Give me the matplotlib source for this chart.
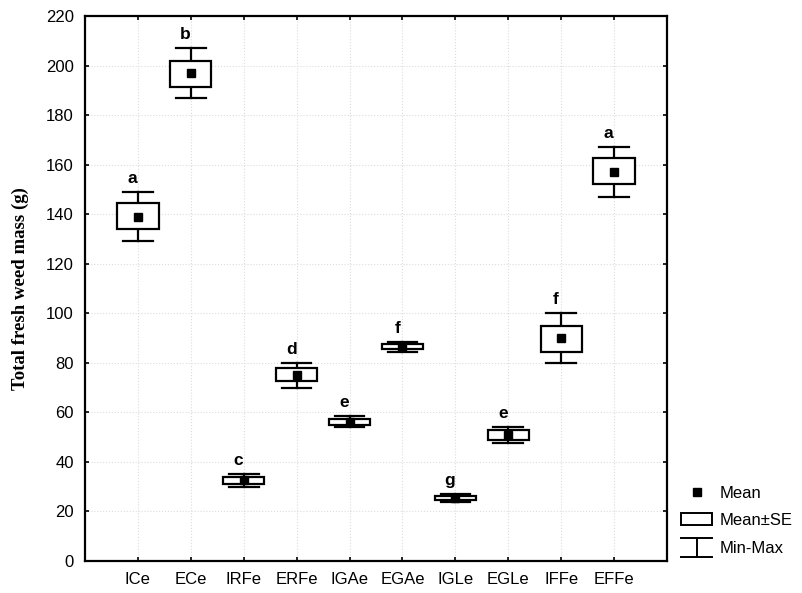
import matplotlib.pyplot as plt
from matplotlib.patches import Rectangle
from matplotlib.lines import Line2D
from matplotlib.legend_handler import HandlerBase

# dados
grupos = ['ICe', 'ECe', 'IRFe', 'ERFe', 'IGAe', 'EGAe', 'IGLe', 'EGLe', 'IFFe', 'EFFe']
media = [139, 197, 32.5, 75, 56, 86.5, 25.5, 51, 90, 157]
se_inf = [134, 191.5, 31, 72.5, 55, 85.5, 24.8, 49, 84.5, 152]
se_sup = [144.5, 202, 34, 78, 57.5, 87.5, 26.3, 53, 95, 162.5]
minimo = [129, 187, 30, 70, 54, 84.5, 24, 47.5, 80, 147]
maximo = [149, 207, 35, 80, 58.5, 88.5, 27, 54, 100, 167]
letras = ['a', 'b', 'c', 'd', 'e', 'f', 'g', 'e', 'f', 'a']

plt.rcParams['font.family'] = ['Liberation Sans', 'DejaVu Sans']

fig = plt.figure(figsize=(8.02, 5.93), dpi=100)
ax = fig.add_axes([85 / 802, 1 - 561 / 593, 582 / 802, 545 / 593])

larg = 0.78
cap = 0.56
for i, g in enumerate(grupos):
    x = i + 1
    ax.add_patch(Rectangle((x - larg / 2, se_inf[i]), larg, se_sup[i] - se_inf[i],
                           facecolor='white', edgecolor='black', lw=1.6, zorder=3))
    ax.plot([x, x], [maximo[i], se_sup[i]], color='black', lw=1.6, zorder=2)
    ax.plot([x, x], [se_inf[i], minimo[i]], color='black', lw=1.6, zorder=2)
    ax.plot([x - cap / 2, x + cap / 2], [maximo[i], maximo[i]], color='black', lw=1.6, zorder=2)
    ax.plot([x - cap / 2, x + cap / 2], [minimo[i], minimo[i]], color='black', lw=1.6, zorder=2)
    ax.plot(x, media[i], 's', color='black', ms=6, zorder=4)
    ax.text(x - 0.1, maximo[i] + 2.5, letras[i], ha='center', va='bottom',
            fontsize=12.5, fontweight='bold')

ax.set_xlim(0, 11)
ax.set_ylim(0, 220)
ax.set_xticks(range(1, 11))
ax.set_xticklabels(grupos)
ax.set_yticks(range(0, 221, 20))
ax.tick_params(direction='in', top=True, right=True, labelsize=12, length=3, width=1.2)
ax.tick_params(axis='x', pad=8)
ax.tick_params(axis='y', pad=8)
for s in ax.spines.values():
    s.set_linewidth(1.6)
ax.grid(True, color='#dcdcdc', linestyle=':', lw=0.8)
ax.set_axisbelow(True)
ax.set_ylabel('Total fresh weed mass (g)', family='Liberation Serif',
              fontweight='bold', fontsize=13.5, labelpad=12)


class HandlerMinMax(HandlerBase):
    def create_artists(self, legend, orig, xd, yd, w, h, fontsize, trans):
        y0, y1 = yd - h * 0.35, yd + h * 1.2
        l1 = Line2D([xd, xd + w], [y1, y1], color='black', lw=1.4)
        l2 = Line2D([xd, xd + w], [y0, y0], color='black', lw=1.4)
        l3 = Line2D([xd + w / 2, xd + w / 2], [y0, y1], color='black', lw=1.4)
        for a in (l1, l2, l3):
            a.set_transform(trans)
        return [l1, l2, l3]


h_media = Line2D([], [], marker='s', color='black', ls='none', ms=6)
h_se = Rectangle((0, 0), 1, 1, facecolor='white', edgecolor='black', lw=1.4)
h_mm = Line2D([], [])
fig.legend([h_media, h_se, h_mm], ['Mean', 'Mean±SE', 'Min-Max'],
           handler_map={h_mm: HandlerMinMax()},
           loc='upper left', bbox_to_anchor=(674 / 802, 1 - 479 / 593),
           frameon=False, fontsize=12, handlelength=1.9, handleheight=0.75,
           labelspacing=0.75, handletextpad=0.45, borderaxespad=0)

fig.savefig('out.png', dpi=100)
